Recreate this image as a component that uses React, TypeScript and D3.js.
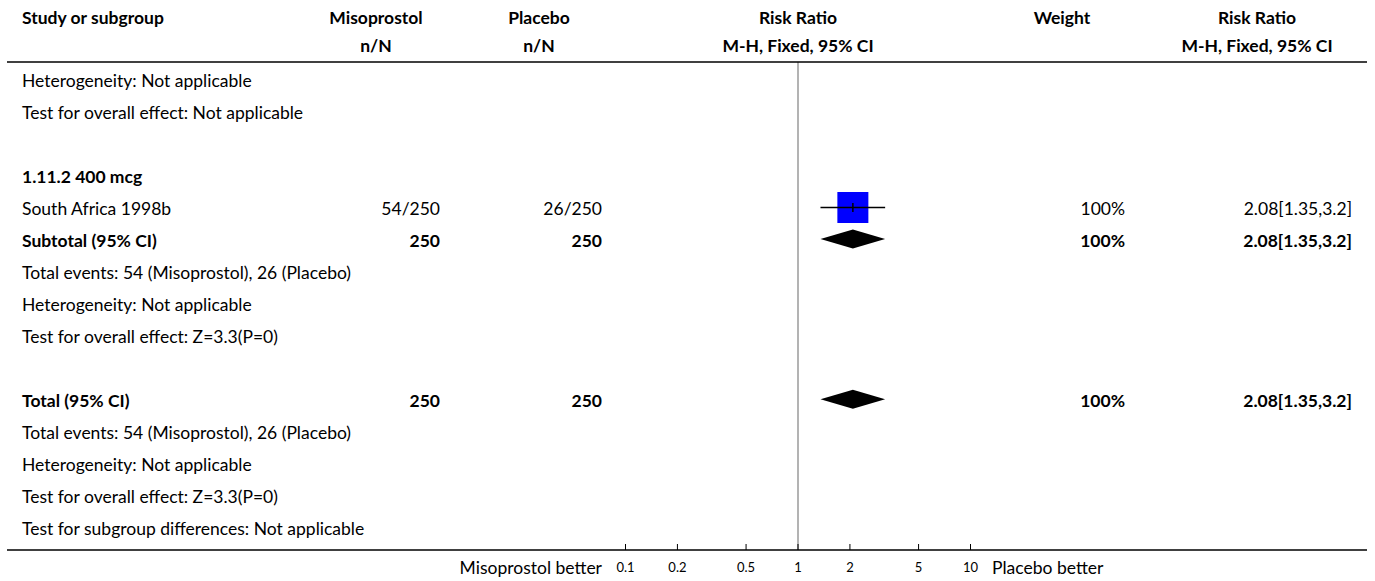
import React from "react";
import * as d3 from "d3";

// Study-level data
const studyNames = ["South Africa 1998b"];
const misoEvents = [54];
const misoTotals = [250];
const placeboEvents = [26];
const placeboTotals = [250];
const studyRR = [2.08];
const studyLow = [1.35];
const studyHigh = [3.2];
const studyWeights = [100];

// Pooled estimates (subtotal and total)
const pooledRR = [2.08, 2.08];
const pooledLow = [1.35, 1.35];
const pooledHigh = [3.2, 3.2];

const axisTicks = [0.1, 0.2, 0.5, 1, 2, 5, 10];

const W = 1375;
const H = 581;
const FONT = "Lato, 'Source Sans Pro', sans-serif";
const FS = 17.5;

const rowTop0 = 63;
const rowH = 32.05;
const headerLineY = 62;
const bottomLineY = 550;

const colText = 22;
const misoRight = 440;
const misoHeader = 376;
const placeboRight = 602;
const placeboHeader = 539;
const weightRight = 1125;
const weightHeader = 1062;
const rrRight = 1352;
const rrHeader = 1257;

type Row =
  | { kind: "text"; text: string; bold?: boolean }
  | { kind: "blank" }
  | { kind: "study"; i: number }
  | { kind: "pooled"; label: string; p: number };

const totalMiso = d3.sum(misoEvents);
const totalPlacebo = d3.sum(placeboEvents);
const eventsLine = `Total events: ${totalMiso} (Misoprostol), ${totalPlacebo} (Placebo)`;

const rows: Row[] = [
  { kind: "text", text: "Heterogeneity: Not applicable" },
  { kind: "text", text: "Test for overall effect: Not applicable" },
  { kind: "blank" },
  { kind: "text", text: "1.11.2 400 mcg", bold: true },
  { kind: "study", i: 0 },
  { kind: "pooled", label: "Subtotal (95% CI)", p: 0 },
  { kind: "text", text: eventsLine },
  { kind: "text", text: "Heterogeneity: Not applicable" },
  { kind: "text", text: "Test for overall effect: Z=3.3(P=0)" },
  { kind: "blank" },
  { kind: "pooled", label: "Total (95% CI)", p: 1 },
  { kind: "text", text: eventsLine },
  { kind: "text", text: "Heterogeneity: Not applicable" },
  { kind: "text", text: "Test for overall effect: Z=3.3(P=0)" },
  { kind: "text", text: "Test for subgroup differences: Not applicable" },
];

export default function App() {
  const x = d3.scaleLog().domain([0.1, 10]).range([625.5, 970.5]);
  const x1 = x(1);
  const maxW = d3.max(studyWeights) as number;
  const sq = d3.scaleSqrt().domain([0, maxW]).range([0, 31]);

  const rowTop = (k: number) => rowTop0 + k * rowH;
  const baseline = (k: number) => rowTop(k) + 23.5;
  const mid = (k: number) => rowTop(k) + 16.3;

  const t = (
    xPos: number,
    y: number,
    s: string,
    anchor: "start" | "middle" | "end",
    bold = false,
    key?: string,
    size = FS
  ) => (
    <text
      key={key}
      x={xPos}
      y={y}
      textAnchor={anchor}
      fontFamily={FONT}
      fontSize={size}
      fontWeight={bold ? 700 : 400}
      fill="#000"
    >
      {s}
    </text>
  );

  return (
    <svg
      width={W}
      height={H}
      style={{ position: "absolute", left: 0, top: 0, background: "#fff" }}
    >
      {/* Column headers */}
      {t(colText, 24, "Study or subgroup", "start", true)}
      {t(misoHeader, 24, "Misoprostol", "middle", true)}
      {t(misoHeader, 52, "n/N", "middle", true)}
      {t(placeboHeader, 24, "Placebo", "middle", true)}
      {t(placeboHeader, 52, "n/N", "middle", true)}
      {t(x1, 24, "Risk Ratio", "middle", true)}
      {t(x1, 52, "M-H, Fixed, 95% CI", "middle", true)}
      {t(weightHeader, 24, "Weight", "middle", true)}
      {t(rrHeader, 24, "Risk Ratio", "middle", true)}
      {t(rrHeader, 52, "M-H, Fixed, 95% CI", "middle", true)}

      {/* Line of no effect */}
      <line x1={x1} x2={x1} y1={headerLineY} y2={bottomLineY} stroke="#9a9a9a" strokeWidth={1.5} />

      {/* Rows */}
      {rows.map((r, k) => {
        if (r.kind === "blank") return null;
        if (r.kind === "text") return t(colText, baseline(k), r.text, "start", !!r.bold, `r${k}`);
        if (r.kind === "study") {
          const i = r.i;
          const s = sq(studyWeights[i]);
          const cy = mid(k);
          return (
            <g key={`r${k}`}>
              {t(colText, baseline(k), studyNames[i], "start")}
              {t(misoRight, baseline(k), `${misoEvents[i]}/${misoTotals[i]}`, "end")}
              {t(placeboRight, baseline(k), `${placeboEvents[i]}/${placeboTotals[i]}`, "end")}
              <rect x={x(studyRR[i]) - s / 2} y={cy - s / 2} width={s} height={s} fill="#0000ff" />
              <line x1={x(studyLow[i])} x2={x(studyHigh[i])} y1={cy} y2={cy} stroke="#000" strokeWidth={1.5} />
              <line x1={x(studyRR[i])} x2={x(studyRR[i])} y1={cy - 4.5} y2={cy + 4.5} stroke="#000" strokeWidth={1.5} />
              {t(weightRight, baseline(k), `${studyWeights[i]}%`, "end")}
              {t(rrRight, baseline(k), `${studyRR[i]}[${studyLow[i]},${studyHigh[i]}]`, "end")}
            </g>
          );
        }
        const p = r.p;
        const cy = mid(k) - 0.5;
        const hh = 9.5;
        const d = `M${x(pooledLow[p])},${cy} L${x(pooledRR[p])},${cy - hh} L${x(pooledHigh[p])},${cy} L${x(pooledRR[p])},${cy + hh} Z`;
        return (
          <g key={`r${k}`}>
            {t(colText, baseline(k), r.label, "start", true)}
            {t(misoRight, baseline(k), `${d3.sum(misoTotals)}`, "end", true)}
            {t(placeboRight, baseline(k), `${d3.sum(placeboTotals)}`, "end", true)}
            <path d={d} fill="#000" />
            {t(weightRight, baseline(k), `${d3.sum(studyWeights)}%`, "end", true)}
            {t(rrRight, baseline(k), `${pooledRR[p]}[${pooledLow[p]},${pooledHigh[p]}]`, "end", true)}
          </g>
        );
      })}

      {/* Header and bottom rules */}
      <line x1={7} x2={1367} y1={headerLineY} y2={headerLineY} stroke="#000" strokeWidth={1.6} />
      <line x1={7} x2={1367} y1={bottomLineY} y2={bottomLineY} stroke="#000" strokeWidth={1.6} />

      {/* Log axis */}
      {axisTicks.map((v) => (
        <g key={`tk${v}`}>
          <line x1={x(v)} x2={x(v)} y1={bottomLineY} y2={bottomLineY - 6} stroke="#000" strokeWidth={1} />
          {t(x(v), 572, `${v}`, "middle", false, undefined, 13)}
        </g>
      ))}
      {t(602, 574, "Misoprostol better", "end")}
      {t(992, 574, "Placebo better", "start")}
    </svg>
  );
}
